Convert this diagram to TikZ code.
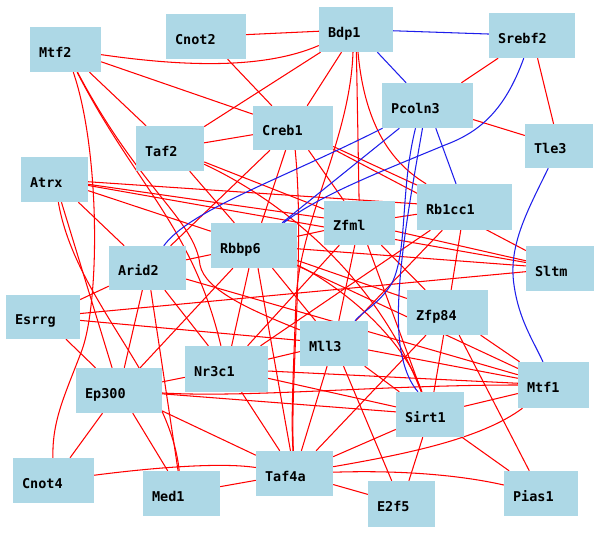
\documentclass[tikz,border=0pt]{standalone}
\usepackage{fontspec}
\setmonofont{DejaVu Sans Mono}
\usetikzlibrary{fit,backgrounds}
\definecolor{boxblue}{RGB}{173,216,230}
\definecolor{ered}{RGB}{255,0,0}
\definecolor{eblue}{RGB}{30,30,235}
\tikzset{
  box/.style={fill=boxblue, draw=none, inner sep=0pt},
  lbl/.style={anchor=base west, inner sep=0pt, font=\fontsize{13.5}{14}\selectfont\ttfamily\bfseries, text=black},
  red edge/.style={draw=ered, line width=1.05pt},
  blue edge/.style={draw=eblue, line width=1.05pt},
}
\newcommand{\gnode}[6]{%
  \node[box, fit={(#2,#3) (#4,#5)}] (#1) {};
  \node[lbl] (#1-t) at ([xshift=9pt,yshift=-7.5pt]#1.west) {#6};
}
\begin{document}
\begin{tikzpicture}[x=1pt,y=-1pt]
\useasboundingbox (0,0) rectangle (600,533);
\gnode{mtf2}{30}{27}{101}{72}{Mtf2}
\gnode{cnot2}{166}{14}{246}{59}{Cnot2}
\gnode{bdp1}{319}{7}{393}{52}{Bdp1}
\gnode{srebf2}{489}{13}{575}{58}{Srebf2}
\gnode{pcoln3}{382}{83}{473}{128}{Pcoln3}
\gnode{creb1}{253}{106}{333}{150}{Creb1}
\gnode{taf2}{136}{126}{204}{171}{Taf2}
\gnode{tle3}{525}{124}{593}{168}{Tle3}
\gnode{atrx}{21}{157}{88}{202}{Atrx}
\gnode{rb1cc1}{417}{184}{512}{230}{Rb1cc1}
\gnode{zfml}{324}{201}{395}{245}{Zfml}
\gnode{rbbp6}{211}{223}{297}{268}{Rbbp6}
\gnode{arid2}{109}{246}{186}{290}{Arid2}
\gnode{sltm}{526}{246}{594}{291}{Sltm}
\gnode{esrrg}{6}{295}{80}{339}{Esrrg}
\gnode{zfp84}{407}{290}{488}{335}{Zfp84}
\gnode{mll3}{300}{321}{368}{366}{Mll3}
\gnode{nr3c1}{185}{346}{268}{392}{Nr3c1}
\gnode{ep300}{76}{368}{162}{413}{Ep300}
\gnode{sirt1}{396}{392}{464}{437}{Sirt1}
\gnode{mtf1}{518}{362}{589}{408}{Mtf1}
\gnode{cnot4}{13}{458}{94}{503}{Cnot4}
\gnode{med1}{143}{471}{220}{516}{Med1}
\gnode{taf4a}{256}{451}{333}{496}{Taf4a}
\gnode{e2f5}{368}{481}{435}{527}{E2f5}
\gnode{pias1}{504}{471}{578}{516}{Pias1}
\begin{scope}[on background layer]
\fill[white] (0,0) rectangle (600,533);
% red edges
\draw[red edge] (cnot2) -- (bdp1);
\draw[red edge] (mtf2) .. controls (180,66) and (262,70) .. (bdp1);
\draw[red edge] (mtf2) -- (creb1);
\draw[red edge] (mtf2) -- (taf2);
\draw[red edge] (mtf2) .. controls (100,150) and (100,300) .. (82,350) .. controls (65,395) and (52,420) .. (cnot4);
\draw[red edge] (mtf2) .. controls (135,185) and (192,225) .. (nr3c1);
\draw[red edge] (mtf2) .. controls (140,190) and (195,220) .. (200,265) .. controls (205,290) and (250,310) .. (mll3);
\draw[red edge] (cnot2) -- (creb1);
\draw[red edge] (bdp1) -- (taf2);
\draw[red edge] (bdp1) -- (creb1);
\draw[red edge] (bdp1) -- (zfml);
\draw[red edge] ([xshift=2pt]bdp1.south) .. controls (365,130) and (395,165) .. (rb1cc1);
\draw[red edge] ([xshift=-3pt]bdp1.south) .. controls (350,140) and (300,220) .. (296,300) .. controls (293,380) and (291,420) .. (taf4a);
\draw[red edge] (srebf2) -- (pcoln3);
\draw[red edge] (srebf2) -- (tle3);
\draw[red edge] (pcoln3) -- (tle3);
\draw[red edge] (creb1) -- (taf2);
\draw[red edge] (creb1) -- (rb1cc1);
\draw[red edge] (creb1) -- (sltm);
\draw[red edge] (creb1) -- (zfml);
\draw[red edge] (creb1) -- (arid2);
\draw[red edge] (creb1) -- (rbbp6);
\draw[red edge] (creb1) .. controls (305,250) and (290,380) .. (taf4a);
\draw[red edge] (taf2) -- (zfml);
\draw[red edge] (taf2) -- (rbbp6);
\draw[red edge] (taf2) .. controls (260,190) and (370,260) .. (sirt1);
\draw[red edge] (atrx) -- (rb1cc1);
\draw[red edge] (atrx) -- (sltm);
\draw[red edge] (atrx) -- (zfml);
\draw[red edge] (atrx) -- (rbbp6);
\draw[red edge] (atrx) -- (arid2);
\draw[red edge] (atrx) .. controls (75,300) and (170,380) .. (med1);
\draw[red edge] (atrx) -- (ep300);
\draw[red edge] (arid2) -- (rbbp6);
\draw[red edge] (arid2) -- (esrrg);
\draw[red edge] (arid2) -- (ep300);
\draw[red edge] (arid2) -- (med1);
\draw[red edge] (arid2) -- (nr3c1);
\draw[red edge] (arid2) -- (mtf1);
\draw[red edge] (esrrg) -- (sltm);
\draw[red edge] (esrrg) -- (mll3);
\draw[red edge] (esrrg) -- (ep300);
\draw[red edge] (rbbp6) -- (sltm);
\draw[red edge] (rbbp6) -- (zfml);
\draw[red edge] (rbbp6) -- (zfp84);
\draw[red edge] (rbbp6) -- (mtf1);
\draw[red edge] (rbbp6) .. controls (330,280) and (400,330) .. (sirt1);
\draw[red edge] (rbbp6) -- (nr3c1);
\draw[red edge] (rbbp6) -- (taf4a);
\draw[red edge] (rbbp6) -- (ep300);
\draw[red edge] (rbbp6) -- (mll3);
\draw[red edge] (zfml) -- (rb1cc1);
\draw[red edge] (zfml) -- (sltm);
\draw[red edge] (zfml) -- (zfp84);
\draw[red edge] (zfml) -- (mll3);
\draw[red edge] (zfml) -- (nr3c1);
\draw[red edge] (zfml) -- (sirt1);
\draw[red edge] (rb1cc1) -- (zfp84);
\draw[red edge] (rb1cc1) -- (mll3);
\draw[red edge] (rb1cc1) -- (nr3c1);
\draw[red edge] (zfp84) -- (mtf1);
\draw[red edge] (zfp84) -- (pias1);
\draw[red edge] (zfp84) -- (taf4a);
\draw[red edge] (zfp84) -- (sirt1);
\draw[red edge] (mll3) -- (mtf1);
\draw[red edge] (mll3) -- (nr3c1);
\draw[red edge] (mll3) -- (sirt1);
\draw[red edge] (mll3) -- (taf4a);
\draw[red edge] (mll3) -- (e2f5);
\draw[red edge] (nr3c1) -- (ep300);
\draw[red edge] (nr3c1) -- (taf4a);
\draw[red edge] (nr3c1) -- (mtf1);
\draw[red edge] (nr3c1) -- (sirt1);
\draw[red edge] (ep300) -- (cnot4);
\draw[red edge] (ep300) -- (med1);
\draw[red edge] (ep300) -- (sirt1);
\draw[red edge] (ep300) .. controls (250,398) and (380,385) .. (mtf1);
\draw[red edge] (ep300) -- (taf4a);
\draw[red edge] (sirt1) -- (mtf1);
\draw[red edge] (sirt1) -- (pias1);
\draw[red edge] (sirt1) -- (taf4a);
\draw[red edge] (sirt1) -- (e2f5);
\draw[red edge] (mtf1) .. controls (480,440) and (400,455) .. (taf4a);
\draw[red edge] (cnot4) .. controls (150,468) and (220,462) .. (taf4a);
\draw[red edge] (med1) -- (taf4a);
\draw[red edge] (taf4a) .. controls (400,470) and (460,475) .. (pias1);
\draw[red edge] (taf4a) -- (e2f5);
% blue edges
\draw[blue edge] (bdp1) -- (srebf2);
\draw[blue edge] (bdp1) -- (pcoln3);
\draw[blue edge] (pcoln3) -- (rb1cc1);
\draw[blue edge] (pcoln3) .. controls (280,180) and (190,210) .. (arid2);
\draw[blue edge] (pcoln3) -- (rbbp6);
\draw[blue edge] (srebf2) .. controls (505,110) and (480,132) .. (445,145) .. controls (380,172) and (320,195) .. (rbbp6);
\draw[blue edge] ([xshift=-12pt]pcoln3.south) .. controls (400,190) and (408,250) .. (392,283) .. controls (380,303) and (362,312) .. ([xshift=21pt]mll3.north);
\draw[blue edge] ([xshift=-5pt]pcoln3.south) .. controls (410,200) and (393,290) .. (400,345) .. controls (404,372) and (412,385) .. ([xshift=-12pt]sirt1.north);
\draw[blue edge] (tle3) .. controls (528,210) and (508,245) .. (514,285) .. controls (519,320) and (533,340) .. (mtf1);
\end{scope}
\end{tikzpicture}
\end{document}
